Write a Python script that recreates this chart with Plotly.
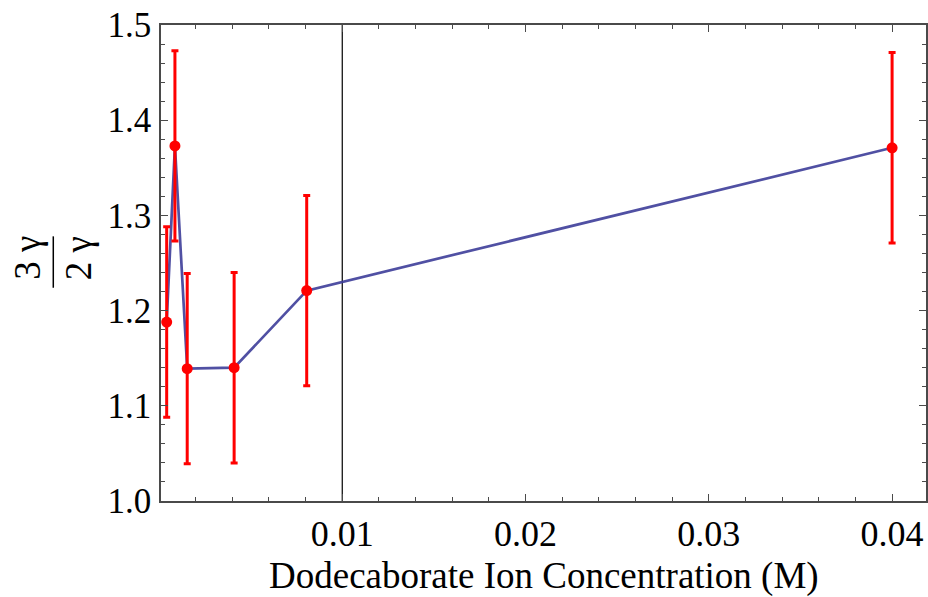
import plotly.graph_objects as go

# Data
conc = [0.00042, 0.00087, 0.00154, 0.0041, 0.00806, 0.0400]
ratio = [1.188, 1.373, 1.139, 1.140, 1.221, 1.371]
ratio_err = [0.100, 0.100, 0.100, 0.100, 0.100, 0.100]
x_ticks = [0.01, 0.02, 0.03, 0.04]
y_ticks = [1.0, 1.1, 1.2, 1.3, 1.4, 1.5]
axis_cross_x = 0.01

FONT = "Liberation Serif"
FRAME = "#4a4a4a"

fig = go.Figure()
fig.add_trace(go.Scatter(
    x=conc, y=ratio, mode="lines",
    line=dict(color="rgba(61,61,153,0.9)", width=2.7),
    hoverinfo="skip", showlegend=False,
))
fig.add_trace(go.Scatter(
    x=conc, y=ratio, mode="markers",
    marker=dict(color="#ff0000", size=11),
    error_y=dict(type="data", array=ratio_err, visible=True,
                 color="#ff0000", thickness=3, width=3.5),
    showlegend=False,
))

fig.add_vline(x=axis_cross_x, line=dict(color="black", width=1.2), layer="below")

fig.update_xaxes(
    range=[0.00011, 0.04185],
    tickvals=x_ticks, ticktext=[f"{v:.2f}" for v in x_ticks],
    ticks="inside", ticklen=7, tickwidth=1.3, tickcolor=FRAME,
    minor=dict(dtick=0.002, tick0=0, ticks="inside", ticklen=4, tickwidth=1, tickcolor=FRAME),
    showline=True, linecolor=FRAME, linewidth=1.5, mirror="ticks",
    showgrid=False, zeroline=False,
    tickfont=dict(family=FONT, size=36, color="black"),
)
fig.update_yaxes(
    range=[1.0, 1.5],
    tickvals=y_ticks, ticktext=[f"{v:.1f}" for v in y_ticks],
    ticks="inside", ticklen=7, tickwidth=1.3, tickcolor=FRAME,
    minor=dict(dtick=0.02, tick0=1.0, ticks="inside", ticklen=4, tickwidth=1, tickcolor=FRAME),
    showline=True, linecolor=FRAME, linewidth=1.5, mirror="ticks",
    showgrid=False, zeroline=False,
    tickfont=dict(family=FONT, size=35, color="black"),
    ticklabelstandoff=1,
)

# Axis titles
fig.add_annotation(
    text="Dodecaborate Ion Concentration (M)", xref="paper", yref="paper",
    x=0.5, y=-0.1576, xanchor="center", yanchor="middle", showarrow=False,
    font=dict(family=FONT, size=37, color="black"),
)
# Rotated fraction 3γ / 2γ
fig.add_annotation(
    text="3 γ", xref="paper", yref="paper", x=-0.1745, y=0.51,
    xanchor="center", yanchor="middle", textangle=-90, showarrow=False,
    font=dict(family=FONT, size=37, color="black"),
)
fig.add_annotation(
    text="2 γ", xref="paper", yref="paper", x=-0.1085, y=0.51,
    xanchor="center", yanchor="middle", textangle=-90, showarrow=False,
    font=dict(family=FONT, size=37, color="black"),
)
fig.add_shape(type="line", xref="paper", yref="paper",
              x0=-0.1408, x1=-0.1408, y0=0.448, y1=0.556,
              line=dict(color="black", width=1.5))

fig.update_layout(
    width=928, height=597,
    margin=dict(l=161, r=0, t=25, b=96),
    paper_bgcolor="white", plot_bgcolor="white",
    font=dict(family=FONT, size=36, color="black"),
)

fig.write_html("out.html", config={"displayModeBar": False})
